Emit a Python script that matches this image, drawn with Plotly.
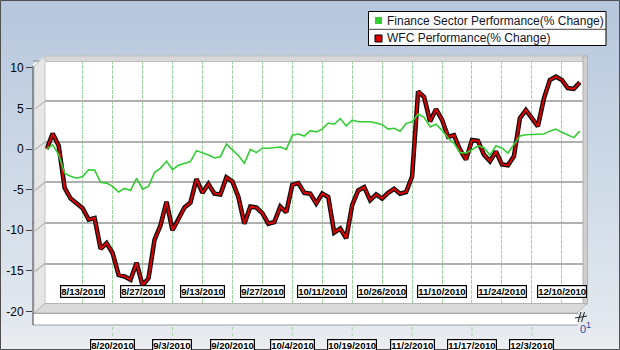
import plotly.graph_objects as go

W, H = 620, 350

# ---------------- data ----------------
series_names = ["Finance Sector Performance(% Change)", "WFC Performance(% Change)"]
idx = list(range(90))
finance = [0.0, 0.5, -0.7, -3.0, -3.35, -3.6, -3.4, -2.55, -2.6, -4.1,
           -4.2, -4.6, -5.3, -4.85, -5.1, -3.6, -4.95, -4.6, -2.9, -2.35,
           -1.5, -2.55, -2.0, -1.8, -1.55, -0.2, -0.45, -0.75, -1.1, -0.95,
           0.6, -0.05, -0.8, -1.75, -0.05, -0.45, 0.1, 0.1, 0.15, 0.25,
           -0.05, 1.7, 1.85, 1.6, 2.25, 2.1, 2.45, 3.2, 3.05, 3.75,
           2.85, 3.55, 3.35, 3.35, 3.35, 3.2, 3.0, 2.45, 2.55, 2.2,
           3.15, 3.35, 4.3, 3.9, 2.75, 3.05, 2.3, 1.35, 0.7, -0.45,
           -0.5, -0.1, 0.4, 0.15, -0.75, 0.4, 0.1, -0.5, 0.5, 1.6,
           1.75, 1.8, 1.8, 1.85, 2.2, 2.45, 2.05, 1.7, 1.4, 2.2]
wfc = [0.0, 1.9, 0.4, -4.8, -6.1, -6.7, -7.3, -8.7, -8.5, -12.3,
       -11.6, -12.8, -15.5, -15.7, -16.1, -14.0, -16.8, -15.9, -11.2, -9.4,
       -6.5, -10.0, -8.7, -7.2, -6.6, -3.7, -5.4, -4.3, -5.5, -5.6,
       -3.5, -4.0, -5.9, -9.2, -7.1, -7.2, -7.9, -9.2, -9.0, -7.1,
       -7.8, -4.4, -4.2, -5.4, -5.5, -6.7, -5.5, -5.9, -10.3, -9.8,
       -11.0, -6.9, -5.1, -4.7, -6.3, -5.6, -6.1, -5.4, -4.9, -5.5,
       -5.3, -3.4, 7.1, 6.4, 3.4, 4.9, 3.6, 1.5, 1.7, -0.1,
       -1.3, 1.1, 1.0, -0.7, -1.5, -0.3, -1.9, -2.0, -0.9, 3.8,
       4.8, 3.8, 2.8, 6.2, 8.5, 8.9, 8.5, 7.5, 7.4, 8.2]
tick_labels = ["8/13/2010", "8/20/2010", "8/27/2010", "9/3/2010", "9/13/2010",
               "9/20/2010", "9/27/2010", "10/4/2010", "10/11/2010", "10/19/2010",
               "10/26/2010", "11/2/2010", "11/10/2010", "11/17/2010", "11/24/2010",
               "12/3/2010", "12/10/2010"]
tick_pos = [6, 11, 16, 21, 26, 31, 36, 41, 46, 51, 56, 61, 66, 71, 76, 81, 86]
y_ticks = [-20, -15, -10, -5, 0, 5, 10]

# ---------------- helpers (pixel -> paper) ----------------
def px(x):
    return x / W

def py(y):
    return 1 - y / H

def path(points, close=True):
    s = "M " + " L ".join(f"{px(x):.5f},{py(y):.5f}" for x, y in points)
    return s + (" Z" if close else "")

def hexmix(c1, c2, t):
    a = [int(c1[i:i + 2], 16) for i in (1, 3, 5)]
    b = [int(c2[i:i + 2], 16) for i in (1, 3, 5)]
    return "#" + "".join(f"{round(a[k] + (b[k] - a[k]) * t):02x}" for k in range(3))

FONT = "Arial, Liberation Sans, sans-serif"
GREEN = "#33cc33"
RED = "#dd0000"

fig = go.Figure()

# WFC: black outline + red core
fig.add_trace(go.Scatter(x=idx, y=wfc, mode="lines", line=dict(color="#111111", width=4.6),
                         showlegend=False, hoverinfo="skip"))
fig.add_trace(go.Scatter(x=idx, y=wfc, mode="lines", line=dict(color=RED, width=2.0),
                         name=series_names[1], showlegend=False))
fig.add_trace(go.Scatter(x=idx, y=finance, mode="lines", line=dict(color=GREEN, width=1.6),
                         name=series_names[0], showlegend=False))
# invisible helper so the back-wall grid axis is drawn
fig.add_trace(go.Scatter(x=[idx[0]], y=[finance[0]], yaxis="y2", mode="markers",
                         marker=dict(opacity=0), showlegend=False, hoverinfo="skip"))

shapes = []
# background gradient
stops = [(0, "#b6c6dc"), (160, "#ccd8e6"), (320, "#e2e8ef"), (350, "#eceef1")]
for j in range(0, 350, 5):
    yc = j + 2.5
    for (y0, c0), (y1, c1) in zip(stops[:-1], stops[1:]):
        if y0 <= yc <= y1:
            col = hexmix(c0, c1, (yc - y0) / (y1 - y0))
            break
    shapes.append(dict(type="rect", xref="paper", yref="paper", layer="below",
                       x0=px(0), x1=px(W), y0=py(j), y1=py(j + 5.5),
                       fillcolor=col, line=dict(width=0)))
# white panel
shapes.append(dict(type="path", xref="paper", yref="paper", layer="below",
                   path=path([(33, 64), (45, 56), (587, 56), (587, 304), (578, 313), (578, 325), (33, 325)]),
                   fillcolor="#ffffff", line=dict(width=0)))

# above-layer 3D decorations
shapes.append(dict(type="rect", xref="paper", yref="paper", layer="above",
                   x0=px(45), x1=px(587), y0=py(56), y1=py(61.5),
                   fillcolor="#d8d8d8", line=dict(color="#c0c0c0", width=1)))
shapes.append(dict(type="rect", xref="paper", yref="paper", layer="above",
                   x0=px(583), x1=px(587.5), y0=py(56), y1=py(304),
                   fillcolor="#cfcfcf", line=dict(color="#b0b0b0", width=1)))
shapes.append(dict(type="path", xref="paper", yref="paper", layer="above",
                   path=path([(34, 66), (45, 56), (45, 304), (34, 313)]),
                   fillcolor="#e6e6e6", line=dict(color="#c4c4c4", width=1)))
for v in y_ticks[1:-1]:
    yw = 141.7 - 8.12 * v
    shapes.append(dict(type="line", xref="paper", yref="paper", layer="above",
                       x0=px(45), y0=py(yw), x1=px(35), y1=py(yw + 8),
                       line=dict(color="#b4b4b4", width=1.2)))
shapes.append(dict(type="path", xref="paper", yref="paper", layer="above",
                   path=path([(34, 313), (45, 303.5), (587, 303.5), (577, 313)]),
                   fillcolor="#dadada", line=dict(color="#b4b4b4", width=1)))
shapes.append(dict(type="rect", xref="paper", yref="paper", layer="above",
                   x0=px(33.5), x1=px(577.5), y0=py(313.5), y1=py(325),
                   fillcolor="#ffffff", line=dict(width=0)))
shapes.append(dict(type="line", xref="paper", yref="paper", layer="above",
                   x0=px(33), x1=px(578), y0=py(313.5), y1=py(313.5),
                   line=dict(color="#a8a8a8", width=1)))
shapes.append(dict(type="line", xref="paper", yref="paper", layer="above",
                   x0=px(33), x1=px(578), y0=py(325), y1=py(325),
                   line=dict(color="#a0a0a0", width=1)))
shapes.append(dict(type="line", xref="paper", yref="paper", layer="above",
                   x0=px(33), x1=px(33), y0=py(66), y1=py(325),
                   line=dict(color="#404040", width=1)))
# bottom-row tick stubs
for k, t in enumerate(tick_pos):
    if k % 2 == 1:
        shapes.append(dict(type="line", xref="x", yref="paper", layer="above",
                           x0=t, x1=t, y0=py(327), y1=py(339),
                           line=dict(color="#a4d4a4", width=1, dash="dot")))
# axis break marks
for x0 in (578, 581.5):
    shapes.append(dict(type="line", xref="paper", yref="paper", layer="above",
                       x0=px(x0), y0=py(322), x1=px(x0 + 3), y1=py(312),
                       line=dict(color="#202020", width=1)))
shapes.append(dict(type="line", xref="paper", yref="paper", layer="above",
                   x0=px(575), y0=py(318), x1=px(587), y1=py(316),
                   line=dict(color="#202020", width=1)))
# legend box
shapes.append(dict(type="rect", xref="paper", yref="paper", layer="above",
                   x0=px(368.5), x1=px(606), y0=py(11.5), y1=py(45.5),
                   fillcolor="#ffffff", line=dict(color="#000000", width=1)))
shapes.append(dict(type="line", xref="paper", yref="paper", layer="above",
                   x0=px(368.5), x1=px(606), y0=py(29.3), y1=py(29.3),
                   line=dict(color="#404040", width=1)))
shapes.append(dict(type="rect", xref="paper", yref="paper", layer="above",
                   x0=px(375), x1=px(382), y0=py(17), y1=py(24),
                   fillcolor=GREEN, line=dict(width=0)))
shapes.append(dict(type="rect", xref="paper", yref="paper", layer="above",
                   x0=px(375), x1=px(382), y0=py(35), y1=py(42),
                   fillcolor=RED, line=dict(color="#000000", width=1)))
# outer border
shapes.append(dict(type="rect", xref="paper", yref="paper", layer="above",
                   x0=px(0.5), x1=px(619.5), y0=py(0.5), y1=py(349.5),
                   fillcolor="rgba(0,0,0,0)", line=dict(color="#505050", width=1)))

annotations = []
for name, yc in zip(series_names, (20.5, 38.5)):
    annotations.append(dict(text=name, xref="paper", yref="paper", x=px(384.5), y=py(yc),
                            xanchor="left", yanchor="middle", showarrow=False,
                            font=dict(family=FONT, size=12, color="#141428")))
for k, (lab, t) in enumerate(zip(tick_labels, tick_pos)):
    if k % 2 == 0:
        yy, ya = py(291.7), "middle"
    else:
        yy, ya = py(339.3), "top"
    annotations.append(dict(text=lab, xref="x", yref="paper", x=t, y=yy,
                            xanchor="center", yanchor=ya, showarrow=False,
                            bgcolor="#ffffff", bordercolor="#000000", borderwidth=1.2, borderpad=0,
                            font=dict(family=FONT, size=9.6, color="#000000", weight="bold")))
annotations.append(dict(text="0", xref="paper", yref="paper", x=px(583), y=py(329),
                        xanchor="center", yanchor="middle", showarrow=False,
                        font=dict(family=FONT, size=11, color="#2a4aa0")))
annotations.append(dict(text="1", xref="paper", yref="paper", x=px(588.5), y=py(325),
                        xanchor="center", yanchor="middle", showarrow=False,
                        font=dict(family=FONT, size=9, color="#2a4aa0")))

# pixel mapping: index i -> x = 46.7 + 5.99*i ; value v -> y = 149 - 8.12*v (front) / 141.7 - 8.12*v (back wall)
fig.update_layout(
    template="none",
    width=W, height=H, autosize=False,
    margin=dict(l=0, r=0, t=0, b=0, pad=0),
    paper_bgcolor="#dfe6ee",
    plot_bgcolor="rgba(0,0,0,0)",
    showlegend=False,
    xaxis=dict(domain=[33 / W, 587 / W], range=[(33 - 46.7) / 5.99, (587 - 46.7) / 5.99],
               tickvals=tick_pos, showticklabels=False, ticks="",
               showgrid=True, gridcolor="#9fd49f", gridwidth=1, griddash="4px,1px",
               zeroline=False, showline=False, automargin=False),
    yaxis=dict(domain=[25 / H, 295 / H], range=[(149 - 325) / 8.12, (149 - 55) / 8.12],
               tickvals=y_ticks, ticktext=[str(v) for v in y_ticks],
               ticks="outside", ticklen=6, tickwidth=1, tickcolor="#404040",
               tickfont=dict(family=FONT, size=12, color="#000000"),
               showgrid=False, zeroline=False, showline=False, automargin=False),
    yaxis2=dict(overlaying="y", range=[(141.7 - 325) / 8.12, (141.7 - 55) / 8.12],
                tickvals=y_ticks, showticklabels=False, ticks="",
                showgrid=True, gridcolor="#b0b0b0", gridwidth=1.6,
                zeroline=False, showline=False, automargin=False),
    shapes=shapes,
    annotations=annotations,
)

fig.write_html("out.html")
